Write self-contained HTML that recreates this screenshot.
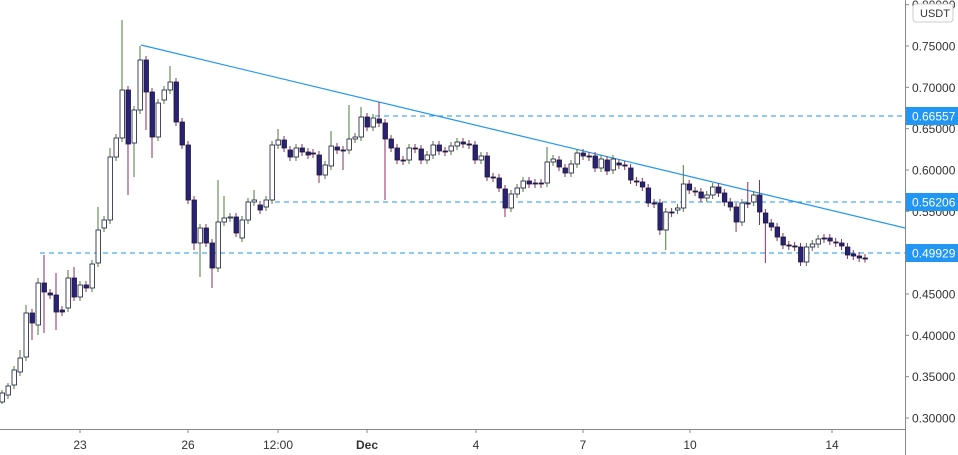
<!DOCTYPE html><html><head><meta charset="utf-8"><style>
body{margin:0;background:#fff;width:958px;height:455px;overflow:hidden;font-family:"Liberation Sans",sans-serif}
svg{position:absolute;left:0;top:0}
</style></head><body>
<svg width="958" height="455" id="s" xmlns="http://www.w3.org/2000/svg"></svg>
<script>
const s=document.getElementById('s');let h='';
const yv=v=>418-(v-0.30)*826.67;
// grid none; axes
h+='<line x1="905.5" y1="0" x2="905.5" y2="455" stroke="#888" stroke-width="1"/>';
h+='<line x1="0" y1="429.5" x2="905" y2="429.5" stroke="#888" stroke-width="1"/>';
for(let i=0;i<=10;i++){const v=0.30+i*0.05,y=yv(v);h+=`<line x1="905" x2="909" y1="${y}" y2="${y}" stroke="#888"/><text x="912" y="${y+4.5}" font-size="12" fill="#333">${v.toFixed(5)}</text>`;}
h+='<rect x="913" y="4" width="40" height="18" rx="3" fill="#fff" stroke="#ccc"/><text x="920" y="17" font-size="11" fill="#333">USDT</text>';
[[80,'23'],[188,'26'],[278,'12:00'],[367,'Dec'],[476,'4'],[583,'7'],[690,'10'],[832,'14']].forEach(([x,t])=>{h+=`<line x1="${x}" x2="${x}" y1="429" y2="433" stroke="#888"/><text x="${x}" y="449" font-size="12" fill="#333" text-anchor="middle" ${t=='Dec'?'font-weight="bold"':''}>${t}</text>`;});
// dashed lines
[[40,253],[275,202],[375,116]].forEach(([x,y])=>{h+=`<line x1="${x}" x2="905" y1="${y}" y2="${y}" stroke="#2196f3" stroke-dasharray="5,4" stroke-width="1"/>`;});
h+='<line x1="141" y1="45" x2="905" y2="228" stroke="#2196f3" stroke-width="1.2"/>';
const A=[[402,393,390,404],[395,386,383],[385,370],[372,358,350],[357,313,305],[313,323,,340],[325,283,278,335],[283,292,255,333],[293,295],[295,312,273,330],[310,312],[308,278,270],[278,297,267],[297,285],[285,288],[288,264],[263,230,207],[228,220],[220,157,148],[157,138],[138,90,20],[90,144,,195],[143,110,,177],[110,60,46],[60,92,,130],[92,137,,158],[137,103],[100,90],[90,82,66],[82,122],[122,145],[145,200],[200,243,,250],[243,228,,277],[228,243],[243,268,,288],[268,222,180],[222,218,196],[218,217],[217,233],[238,220],[220,202],[202,200,190],[205,210],[207,200],[200,145],[145,140,129],[140,148],[150,157],[157,148],[148,152],[152,155]];
const B=[[153,154],[155,175,,183],[175,165],[166,146,131],[147,150],[150,151,,170],[150,139,105],[139,137],[137,117,107],[117,127],[127,118],[119,123,102],[123,139,,200],[139,148],[148,160],[160,161],[160,148],[148,149],[149,160],[160,155],[155,145],[145,151],[151,152],[151,146],[146,142],[142,144],[144,145],[145,160],[160,156],[156,177],[177,178],[178,188],[189,208,,217],[208,194],[194,188],[188,181],[181,184],[183,184],[183,184],[183,162,147],[162,159],[160,167],[168,173],[173,164],[164,153],[153,156],[156,157],[156,168],[168,159],[160,171]];
const C=[[170,159],[163,165],[165,166],[168,180],[181,182],[182,187],[188,203],[203,204],[203,230,,235],[230,212,,250],[212,213],[210,208],[208,184,165],[184,190],[191,192],[192,198],[198,195],[195,187],[187,193],[193,202],[202,207],[207,222,,232],[222,203],[203,204,182],[202,195],[195,212,180,225],[213,223,,263],[223,227],[227,237],[237,245],[245,246],[246,247],[247,262],[262,247],[247,244],[244,239],[238,239],[238,241],[242,243],[243,246],[247,255],[254,256],[256,258],[258,258.5]];
function draw(arr,x0,st){arr.forEach((c,i)=>{const x=x0+i*st;let[o,cl,hi,lo]=c;const up=cl<o;const t=Math.min(o,cl),b=Math.max(o,cl);hi=hi??t-4;lo=lo??b+4;
h+=`<line x1="${x}" x2="${x}" y1="${hi}" y2="${lo}" stroke="${up?'#4c7a3a':'#8c2e62'}" stroke-width="1"/>`;
const bh=Math.max(b-t,1);h+=`<rect x="${x-2}" y="${t}" width="4.5" height="${bh}" fill="${up?'#fff':'#2b2278'}" stroke="#1a1a3a" stroke-width="0.8"/>`;});}
draw(A,2,6);draw(B,313,6);draw(C,613,5.86);
// price labels
[[116,'0.66557'],[202,'0.56206'],[253,'0.49929']].forEach(([y,t])=>{h+=`<rect x="906" y="${y-9}" width="52" height="18" fill="#2196f3"/><text x="912" y="${y+4.5}" font-size="12" fill="#fff">${t}</text>`;});
s.innerHTML=h;
</script></body></html>
